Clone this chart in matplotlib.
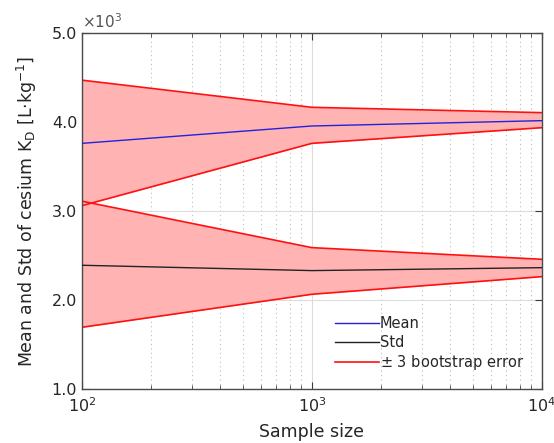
import matplotlib
matplotlib.use('Agg')
import matplotlib.pyplot as plt
from matplotlib.ticker import FuncFormatter, LogLocator
import numpy as np

sample_size = [100, 1000, 10000]

mean_kd = [3760, 3955, 4015]
mean_up = [4470, 4165, 4105]
mean_lo = [3060, 3760, 3936]

std_kd = [2390, 2330, 2363]
std_up = [3110, 2588, 2457]
std_lo = [1693, 2064, 2262]

fig = plt.figure(figsize=(5.54, 4.43), dpi=100)
ax = fig.add_axes([0.148, 0.122, 0.830, 0.8035])

fill_col = '#ffb3b3'
ax.fill_between(sample_size, mean_lo, mean_up, color=fill_col, lw=0, zorder=1)
ax.fill_between(sample_size, std_lo, std_up, color=fill_col, lw=0, zorder=1)

ax.plot(sample_size, mean_kd, color='#2222dd', lw=1, label='Mean', zorder=3)
ax.plot(sample_size, std_kd, color='#222222', lw=1, label='Std', zorder=3)
ax.plot(sample_size, mean_up, color='#ff1010', lw=1.2, label='$\\pm$ 3 bootstrap error', zorder=2)
ax.plot(sample_size, mean_lo, color='#ff1010', lw=1.2, zorder=2)
ax.plot(sample_size, std_up, color='#ff1010', lw=1.2, zorder=2)
ax.plot(sample_size, std_lo, color='#ff1010', lw=1.2, zorder=2)

ax.set_xscale('log')
ax.set_xlim(100, 10000)
ax.set_ylim(1000, 5000)
ax.set_yticks([1000, 2000, 3000, 4000, 5000])
ax.yaxis.set_major_formatter(FuncFormatter(lambda v, p: f'{v/1000:.1f}'))
ax.xaxis.set_minor_locator(LogLocator(base=10, subs=np.arange(2, 10)))

ax.grid(True, which='major', color='#dcdcdc', lw=0.8, ls='-', zorder=0)
ax.grid(True, which='minor', axis='x', color='#bdbdbd', lw=0.8, ls=(0, (1, 3)), zorder=0)
ax.set_axisbelow(True)

ax.tick_params(which='both', direction='in', top=True, right=True, colors='#3a3a3a',
               labelcolor='#262626', labelsize=11.5)
ax.tick_params(which='major', length=5)
ax.tick_params(which='minor', length=3)
ax.tick_params(axis='x', which='major', pad=5)
for s in ax.spines.values():
    s.set_color('#4a4a4a')
    s.set_linewidth(1)

ax.text(0.0, 1.005, '$\\times$10$^3$', transform=ax.transAxes, fontsize=11,
        color='#555555', ha='left', va='bottom')

ax.set_xlabel('Sample size', fontsize=12.5, color='#262626', labelpad=6)
ax.set_ylabel('Mean and Std of cesium K$_\\mathregular{D}$ [L·kg$^\\mathregular{-1}$]',
              fontsize=12.5, color='#262626', labelpad=9)

leg = ax.legend(loc='lower right', bbox_to_anchor=(0.99, 0.01), frameon=False,
                fontsize=10.5, handlelength=3.0, handletextpad=0.1, labelspacing=0.25)
for t in leg.get_texts():
    t.set_color('#262626')

fig.savefig('out.png', dpi=100)
